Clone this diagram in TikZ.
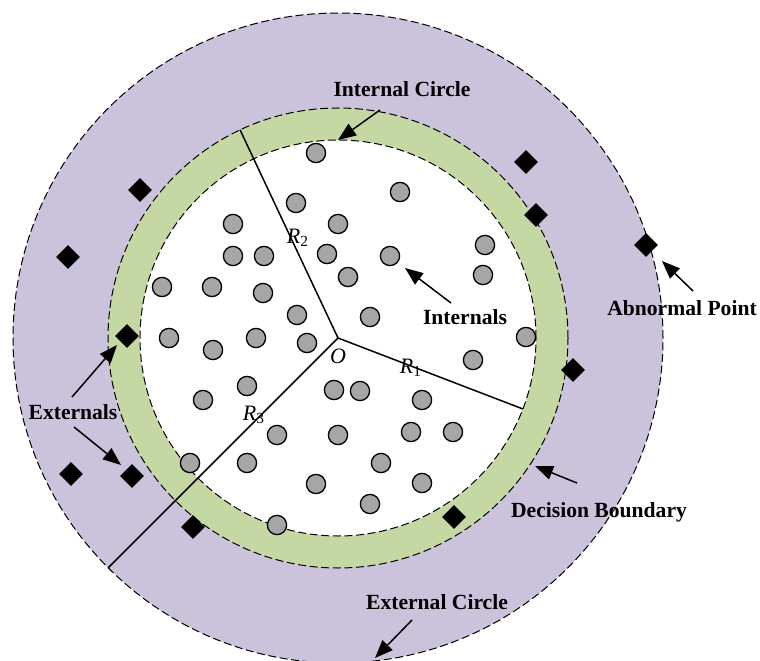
\documentclass[tikz,border=0pt]{standalone}
\usepackage{fontspec}
\setmainfont{Liberation Serif}
\usetikzlibrary{arrows.meta,shapes.geometric}
\definecolor{Lilac}{HTML}{CBC2DB}
\definecolor{Sage}{HTML}{C5D8A4}
\definecolor{Dot}{HTML}{A6A6A6}
\tikzset{
  ring/.style={draw=black,line width=0.5pt,dash pattern=on 4pt off 1.8pt},
  radius line/.style={line width=0.75pt},
  inpt/.style={circle,draw=black,line width=0.65pt,fill=Dot,minimum size=9.6pt,inner sep=0pt},
  expt/.style={diamond,fill=black,minimum width=12pt,minimum height=12pt,inner sep=0pt},
  tag/.style={font=\fontsize{10.8}{12}\selectfont\bfseries,inner sep=1pt},
  sym/.style={font=\fontsize{11}{12}\selectfont,inner sep=1pt},
  pointer/.style={-{Triangle[length=9pt,width=7pt]},line width=0.75pt},
}

\begin{document}
\begin{tikzpicture}[x=0.5pt,y=0.5pt]
\useasboundingbox (0,0) rectangle (760,660);
\coordinate (O) at (338,322);
% three rings
\filldraw[ring,fill=Lilac] (O) circle (325);
\filldraw[ring,fill=Sage] (O) circle (230);
\filldraw[ring,fill=white] (O) circle (198);
% radii
\path (O) ++(-21:198) coordinate (B1);
\path (O) ++(115.2:230) coordinate (B2);
\path (O) ++(225:325) coordinate (B3);
\draw[radius line] (O) -- (B1);
\draw[radius line] (O) -- (B2);
\draw[radius line] (O) -- (B3);
\node[sym] (o) at (338,304) {\textit{O}};
\node[sym] (r1) at (411,292) {\textit{R}\textsubscript{1}};
\node[sym] (r2) at (298,422) {\textit{R}\textsubscript{2}};
\node[sym] (r3) at (254,245) {\textit{R}\textsubscript{3}};
% internal points
\foreach \x/\y [count=\i] in {316/507,296/457,400/468,233/436,338/436,485/415,
  233/404,264/404,327/406,390/404,348/383,483/385,162/373,212/373,263/367,
  297/345,370/343,526/323,169/322,256/322,307/317,213/310,473/300,247/274,
  334/270,360/269,203/260,422/260,277/225,338/225,411/228,453/228,190/197,
  247/197,381/197,316/176,422/177,370/156,277/135}
  \node[inpt] (in\i) at (\x,\y) {};
% external points
\foreach \x/\y [count=\i] in {140/470,68/403,526/498,536/445,646/415,127/324,
  573/290,71/186,132/184,193/133,454/143}
  \node[expt] (ex\i) at (\x,\y) {};
% labels
\node[tag] (lic) at (402,571) {Internal Circle};
\node[tag] (lab) at (682,352) {Abnormal Point};
\node[tag] (lin) at (465,343) {Internals};
\node[tag] (lex) at (73,248) {Externals};
\node[tag] (ldb) at (599,148) {Decision Boundary};
\node[tag] (lec) at (437,58) {External Circle};
% arrows
\coordinate (tic) at (380,550); \coordinate (hic) at (338,520);
\coordinate (tab) at (693,369); \coordinate (hab) at (662,399);
\coordinate (tin) at (451,357); \coordinate (hin) at (405,392);
\coordinate (tex1) at (72,263); \coordinate (hex1) at (117,315);
\coordinate (tex2) at (74,233); \coordinate (hex2) at (121,195);
\coordinate (tdb) at (577,177); \coordinate (hdb) at (535,194);
\coordinate (tec) at (412,40); \coordinate (hec) at (375,2);
\draw[pointer] (tic) -- (hic);
\draw[pointer] (tab) -- (hab);
\draw[pointer] (tin) -- (hin);
\draw[pointer] (tex1) -- (hex1);
\draw[pointer] (tex2) -- (hex2);
\draw[pointer] (tdb) -- (hdb);
\draw[pointer] (tec) -- (hec);
\end{tikzpicture}
\end{document}
